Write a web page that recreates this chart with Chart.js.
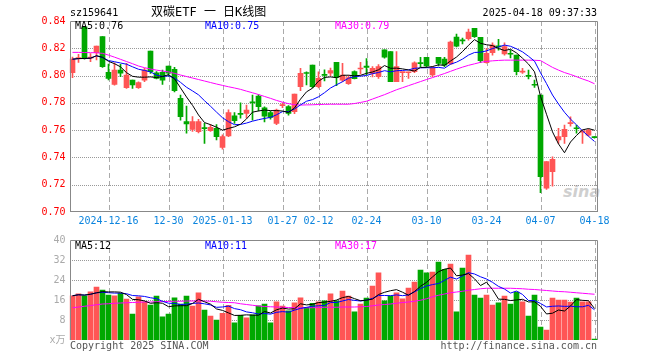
<!DOCTYPE html>
<html>
<head>
<meta charset="utf-8">
<title>双碳ETF 日K线图</title>
<script src="https://cdn.jsdelivr.net/npm/chart.js@4.4.1/dist/chart.umd.min.js"></script>
<style>
  body { margin: 0; background: #fff; }
  #wrap { position: relative; width: 660px; height: 360px; overflow: hidden; font: 10px "DejaVu Sans Mono", monospace; }
  #wrap canvas { position: absolute; left: 0; }
  .txt { position: absolute; white-space: pre; line-height: 12px; }
</style>
</head>
<body>
<div id="wrap">
  <div class="txt" style="left:563px;top:182px;font:italic bold 16px 'DejaVu Sans';color:#cfcfcf">sina</div>
  <canvas id="kline" width="660" height="232" style="top:0"></canvas>
  <canvas id="vol" width="660" height="130" style="top:230px"></canvas>

  <div class="txt" style="left:70px;top:7px">sz159641</div>
  <div class="txt" style="left:151px;top:5px;font:12px 'DejaVu Sans Mono','Noto Sans CJK SC';line-height:14px">双碳ETF 一 日K线图</div>
  <div class="txt" style="right:63px;top:7px">2025-04-18 09:37:33</div>

  <div class="txt" style="left:75px;top:20px;color:#000">MA5:0.76</div>
  <div class="txt" style="left:205px;top:20px;color:#0000ff">MA10:0.75</div>
  <div class="txt" style="left:335px;top:20px;color:#ff00ff">MA30:0.79</div>

  <div class="txt" style="left:75px;top:240px;color:#000">MA5:12</div>
  <div class="txt" style="left:205px;top:240px;color:#0000ff">MA10:11</div>
  <div class="txt" style="left:335px;top:240px;color:#ff00ff">MA30:17</div>

  <div class="txt" style="left:70px;top:340px;color:#555">Copyright 2025 SINA.COM</div>
  <div class="txt" style="right:63px;top:340px;color:#555">http://finance.sina.com.cn</div>
</div>

<script>
var dates = [
	'2024-12-06','2024-12-09','2024-12-10','2024-12-11','2024-12-12','2024-12-13','2024-12-16','2024-12-17','2024-12-18','2024-12-19',
	'2024-12-20','2024-12-23','2024-12-24','2024-12-25','2024-12-26','2024-12-27','2024-12-30','2024-12-31','2025-01-02','2025-01-03',
	'2025-01-06','2025-01-07','2025-01-08','2025-01-09','2025-01-10','2025-01-13','2025-01-14','2025-01-15','2025-01-16','2025-01-17',
	'2025-01-20','2025-01-21','2025-01-22','2025-01-23','2025-01-24','2025-01-27','2025-02-05','2025-02-06','2025-02-07','2025-02-10',
	'2025-02-11','2025-02-12','2025-02-13','2025-02-14','2025-02-17','2025-02-18','2025-02-19','2025-02-20','2025-02-21','2025-02-24',
	'2025-02-25','2025-02-26','2025-02-27','2025-02-28','2025-03-03','2025-03-04','2025-03-05','2025-03-06','2025-03-07','2025-03-10',
	'2025-03-11','2025-03-12','2025-03-13','2025-03-14','2025-03-17','2025-03-18','2025-03-19','2025-03-20','2025-03-21','2025-03-24',
	'2025-03-25','2025-03-26','2025-03-27','2025-03-28','2025-03-31','2025-04-01','2025-04-02','2025-04-03','2025-04-07','2025-04-08',
	'2025-04-09','2025-04-10','2025-04-11','2025-04-14','2025-04-15','2025-04-16','2025-04-17','2025-04-18'
];

// dates that get a label and a dashed line
var tickText = {
	'2024-12-16': '2024-12-16', '2024-12-30': '12-30', '2025-01-13': '2025-01-13', '2025-01-27': '01-27',
	'2025-02-12': '02-12', '2025-02-24': '02-24', '2025-03-10': '03-10', '2025-03-24': '03-24',
	'2025-04-07': '04-07', '2025-04-18': '04-18'
};

var opens = [0.8022,0.8125,0.8358,0.8128,0.8168,0.8285,0.8024,0.7936,0.8041,0.7911,
	0.7967,0.7911,0.7967,0.8180,0.8021,0.8024,0.8070,0.8046,0.7833,0.7662,
	0.7606,0.7588,0.7615,0.7596,0.7613,0.7474,0.7557,0.7704,0.7720,0.7723,
	0.7806,0.7850,0.7764,0.7728,0.7650,0.7780,0.7772,0.7735,0.7918,0.8020,
	0.8077,0.7918,0.8008,0.8017,0.8097,0.7967,0.7941,0.8029,0.8048,0.8070,
	0.8016,0.7992,0.8188,0.8175,0.7955,0.8022,0.8021,0.8029,0.8092,0.8134,
	0.8004,0.8134,0.8120,0.8085,0.8283,0.8259,0.8270,0.8347,0.8280,0.8094,
	0.8168,0.8214,0.8158,0.8160,0.8151,0.8025,0.7999,0.7933,0.7857,0.7175,
	0.7295,0.7528,0.7552,0.7648,0.7615,0.7586,0.7564,0.7549];

var highs = [0.8135,0.8156,0.8358,0.8161,0.8217,0.8285,0.8085,0.8094,0.8083,0.8090,
	0.7967,0.7955,0.8053,0.8180,0.8030,0.8041,0.8070,0.8060,0.7857,0.7777,
	0.7700,0.7680,0.7650,0.7640,0.7640,0.7565,0.7748,0.7728,0.7801,0.7784,
	0.7857,0.7860,0.7770,0.7740,0.7755,0.7800,0.7780,0.7865,0.8053,0.8028,
	0.8077,0.8028,0.8043,0.8055,0.8097,0.8090,0.8000,0.8035,0.8097,0.8124,
	0.8065,0.8080,0.8188,0.8175,0.8175,0.8026,0.8026,0.8100,0.8134,0.8134,
	0.8065,0.8134,0.8134,0.8253,0.8305,0.8275,0.8340,0.8347,0.8280,0.8200,
	0.8240,0.8266,0.8240,0.8187,0.8151,0.8053,0.8040,0.7967,0.7857,0.7369,
	0.7405,0.7613,0.7638,0.7698,0.7638,0.7600,0.7608,0.7552];

var lows = [0.7985,0.8097,0.8120,0.8102,0.8114,0.8060,0.7968,0.7930,0.7992,0.7905,
	0.7905,0.7905,0.7955,0.8015,0.7975,0.7935,0.7995,0.7880,0.7674,0.7577,
	0.7590,0.7580,0.7503,0.7590,0.7528,0.7460,0.7552,0.7650,0.7687,0.7690,
	0.7674,0.7740,0.7660,0.7680,0.7640,0.7765,0.7710,0.7720,0.7890,0.7931,
	0.7910,0.7910,0.7960,0.8000,0.7926,0.7955,0.7935,0.7975,0.8012,0.8004,
	0.7990,0.7980,0.8128,0.7955,0.7955,0.7955,0.7980,0.8021,0.8065,0.8060,
	0.7992,0.8070,0.8065,0.8082,0.8210,0.8232,0.8260,0.8280,0.8094,0.8090,
	0.8150,0.8187,0.8150,0.8130,0.8004,0.8016,0.7975,0.7914,0.7141,0.7165,
	0.7190,0.7503,0.7503,0.7630,0.7577,0.7503,0.7555,0.7542];

var closes = [0.8120,0.8129,0.8127,0.8133,0.8217,0.8065,0.7980,0.8041,0.8017,0.8004,
	0.7931,0.7948,0.8041,0.8028,0.7980,0.7967,0.8017,0.7889,0.7698,0.7645,
	0.7662,0.7662,0.7611,0.7621,0.7552,0.7552,0.7728,0.7669,0.7715,0.7747,
	0.7800,0.7772,0.7703,0.7694,0.7747,0.7784,0.7723,0.7865,0.8017,0.8015,
	0.7918,0.7980,0.8002,0.8036,0.7987,0.8004,0.7985,0.7978,0.8055,0.8060,
	0.8053,0.8065,0.8134,0.7955,0.8065,0.8026,0.8026,0.8094,0.8087,0.8070,
	0.8053,0.8089,0.8077,0.8245,0.8215,0.8254,0.8318,0.8285,0.8110,0.8163,
	0.8224,0.8210,0.8212,0.8156,0.8028,0.8031,0.7994,0.7929,0.7259,0.7369,
	0.7386,0.7552,0.7606,0.7652,0.7610,0.7590,0.7600,0.7545];

// volume in 万
var volumes = [17.7,18.5,17.7,19.3,21.2,20.0,18.0,17.7,18.7,16.4,
	10.4,17.3,15.3,14.0,17.6,9.3,10.4,16.9,14.4,17.6,
	13.6,18.9,12.0,9.6,8.0,10.7,13.9,6.9,9.9,8.9,
	10.1,13.7,14.4,6.9,15.3,13.6,11.7,14.9,16.9,13.1,
	14.7,15.3,15.7,18.5,15.7,19.6,17.6,11.3,14.4,16.8,
	21.6,26.9,15.7,17.6,18.9,16.5,20.8,23.2,28.0,26.9,
	27.2,31.2,28.3,30.4,11.3,28.8,34.0,18.0,16.8,18.0,
	14.0,14.9,17.6,14.4,19.2,15.3,9.6,18.0,5.2,4.0,
	16.8,16.0,16.0,15.2,16.8,15.3,15.3,0.4];

// 30 day lines (they need history before the first bar)
var ma30 = [0.8170,0.8170,0.8169,0.8168,0.8167,0.8163,0.8150,0.8135,0.8119,0.8103,
	0.8087,0.8070,0.8058,0.8048,0.8040,0.8033,0.8027,0.8016,0.8004,0.7993,
	0.7982,0.7971,0.7960,0.7949,0.7938,0.7928,0.7918,0.7909,0.7899,0.7886,
	0.7874,0.7861,0.7847,0.7833,0.7818,0.7805,0.7794,0.7787,0.7784,0.7785,
	0.7786,0.7788,0.7789,0.7790,0.7790,0.7790,0.7790,0.7795,0.7803,0.7812,
	0.7828,0.7844,0.7860,0.7878,0.7896,0.7911,0.7926,0.7941,0.7956,0.7971,
	0.7985,0.8000,0.8015,0.8031,0.8047,0.8062,0.8075,0.8086,0.8097,0.8104,
	0.8108,0.8111,0.8113,0.8113,0.8113,0.8113,0.8113,0.8112,0.8110,0.8085,
	0.8060,0.8040,0.8022,0.8008,0.7992,0.7975,0.7960,0.7940];

var vma30 = [12.9,13.2,13.5,13.8,14.1,14.4,14.5,14.7,14.8,14.9,
	15.0,15.1,15.2,15.2,15.3,15.4,15.4,15.5,15.5,15.6,
	15.6,15.7,15.6,15.5,15.3,15.1,15.0,14.9,14.5,14.2,
	13.9,13.6,13.4,13.3,13.2,13.1,13.0,12.9,12.8,12.9,
	12.9,13.0,13.1,13.1,13.1,13.2,13.2,13.2,13.3,13.4,
	13.7,14.0,14.2,14.4,14.7,15.0,15.2,15.5,15.9,16.5,
	17.3,17.9,18.4,18.9,19.2,19.5,19.9,20.2,20.5,20.7,
	20.7,20.7,20.7,20.7,20.6,20.5,20.3,20.2,20.0,19.8,
	19.6,19.4,19.3,19.1,18.9,18.7,18.5,18.3];

var UP = '#ff5555', DOWN = '#00a800';
var mono = '"DejaVu Sans Mono", "Noto Sans CJK SC", monospace';

function movingAvg(values, n) {
	return values.map(function(v, i) {
		var part = values.slice(Math.max(0, i - n + 1), i + 1);
		return part.reduce(function(a, b) { return a + b; }, 0) / part.length;
	});
}

var barColors = closes.map(function(c, i) { return c >= opens[i] ? UP : DOWN; });

// dotted rows, dashed date columns and the grey box, all from the chart's scales
var panelLines = {
	id: 'panelLines',
	beforeDatasetsDraw: function(chart) {
		var ctx = chart.ctx, a = chart.chartArea;
		var xs = chart.scales.x, ys = chart.scales.y;
		var l = Math.round(a.left), r = Math.round(a.right), t = Math.round(a.top), b = Math.round(a.bottom);
		ctx.save();
		ctx.lineWidth = 1;
		ctx.strokeStyle = '#999999';
		ctx.setLineDash([1, 1]);
		ys.ticks.forEach(function(tick) {
			var y = Math.round(ys.getPixelForValue(tick.value)) + 0.5;
			if (y <= t + 1 || y >= b - 1) return;
			ctx.beginPath(); ctx.moveTo(l, y); ctx.lineTo(r, y); ctx.stroke();
		});
		ctx.strokeStyle = '#aaaaaa';
		ctx.setLineDash([5, 3]);
		dates.forEach(function(d, i) {
			if (!tickText[d]) return;
			var x = Math.round(xs.getPixelForValue(i)) + 0.5;
			ctx.beginPath(); ctx.moveTo(x, t); ctx.lineTo(x, b); ctx.stroke();
		});
		ctx.restore();
	},
	afterDraw: function(chart) {
		var ctx = chart.ctx, a = chart.chartArea;
		var l = Math.round(a.left) + 0.5, r = Math.round(a.right) - 0.5;
		var t = Math.round(a.top) + 0.5, b = Math.round(a.bottom) - 0.5;
		ctx.save();
		ctx.setLineDash([]);
		ctx.strokeStyle = '#888888';
		ctx.lineWidth = 1;
		ctx.beginPath();
		ctx.moveTo(l, b + 0.5);
		ctx.lineTo(l, t);
		ctx.lineTo(r, t);
		ctx.lineTo(r, b + 0.5);
		if (chart.canvas.id === 'kline') {
			ctx.moveTo(l, b);
			ctx.lineTo(r, b);
		}
		ctx.stroke();
		ctx.restore();
	}
};

function xAxis(showLabels) {
	return {
		offset: true,
		grid: { display: false, drawTicks: false },
		border: { display: false },
		ticks: {
			display: showLabels,
			autoSkip: false,
			maxRotation: 0,
			padding: 3,
			color: '#0b84de',
			font: { family: mono, size: 10 },
			callback: function(v, i) { return tickText[dates[i]] || ''; }
		},
		afterFit: function(s) { s.height = showLabels ? 20 : 0; }
	};
}

function maLine(data, color) {
	return {
		type: 'line', data: data, borderColor: color, borderWidth: 1,
		pointRadius: 0, tension: 0, order: 0
	};
}

var baseOptions = {
	responsive: false,
	animation: false,
	plugins: { legend: { display: false }, tooltip: { enabled: false } }
};

new Chart(document.getElementById('kline'), {
	type: 'bar',
	data: {
		labels: dates,
		datasets: [
			{ data: lows.map(function(l, i) { return [l, highs[i]]; }), backgroundColor: barColors,
				barThickness: 1, grouped: false, order: 2 },
			{ data: opens.map(function(o, i) { return [Math.min(o, closes[i]), Math.max(o, closes[i])]; }),
				backgroundColor: barColors, barThickness: 5, minBarLength: 1, grouped: false, order: 1 },
			maLine(movingAvg(closes, 5), '#000000'),
			maLine(movingAvg(closes, 10), '#0000ff'),
			maLine(ma30, '#ff00ff')
		]
	},
	options: Object.assign({}, baseOptions, {
		layout: { padding: { top: 21, right: 62.5, bottom: 0, left: 0 } },
		scales: {
			x: xAxis(true),
			y: {
				min: 0.70, max: 0.84,
				ticks: {
					stepSize: 0.02, color: '#ff0000', padding: 4,
					font: { family: mono, size: 10 },
					callback: function(v) { return v.toFixed(2); }
				},
				grid: { display: false, drawTicks: false },
				border: { display: false },
				afterFit: function(s) { s.width = 69.5; }
			}
		}
	}),
	plugins: [panelLines]
});

new Chart(document.getElementById('vol'), {
	type: 'bar',
	data: {
		labels: dates,
		datasets: [
			{ data: volumes, backgroundColor: barColors, barThickness: 5, order: 1 },
			maLine(movingAvg(volumes, 5), '#000000'),
			maLine(movingAvg(volumes, 10), '#0000ff'),
			maLine(vma30, '#ff00ff')
		]
	},
	options: Object.assign({}, baseOptions, {
		layout: { padding: { top: 10, right: 62.5, bottom: 20, left: 0 } },
		scales: {
			x: xAxis(false),
			y: {
				min: 0, max: 40,
				ticks: {
					stepSize: 8, color: '#aaaaaa', padding: 4,
					font: { family: mono, size: 10 },
					callback: function(v) { return v === 0 ? 'x万' : v; }
				},
				grid: { display: false, drawTicks: false },
				border: { display: false },
				afterFit: function(s) { s.width = 69.5; }
			}
		}
	}),
	plugins: [panelLines]
});
</script>
</body>
</html>
